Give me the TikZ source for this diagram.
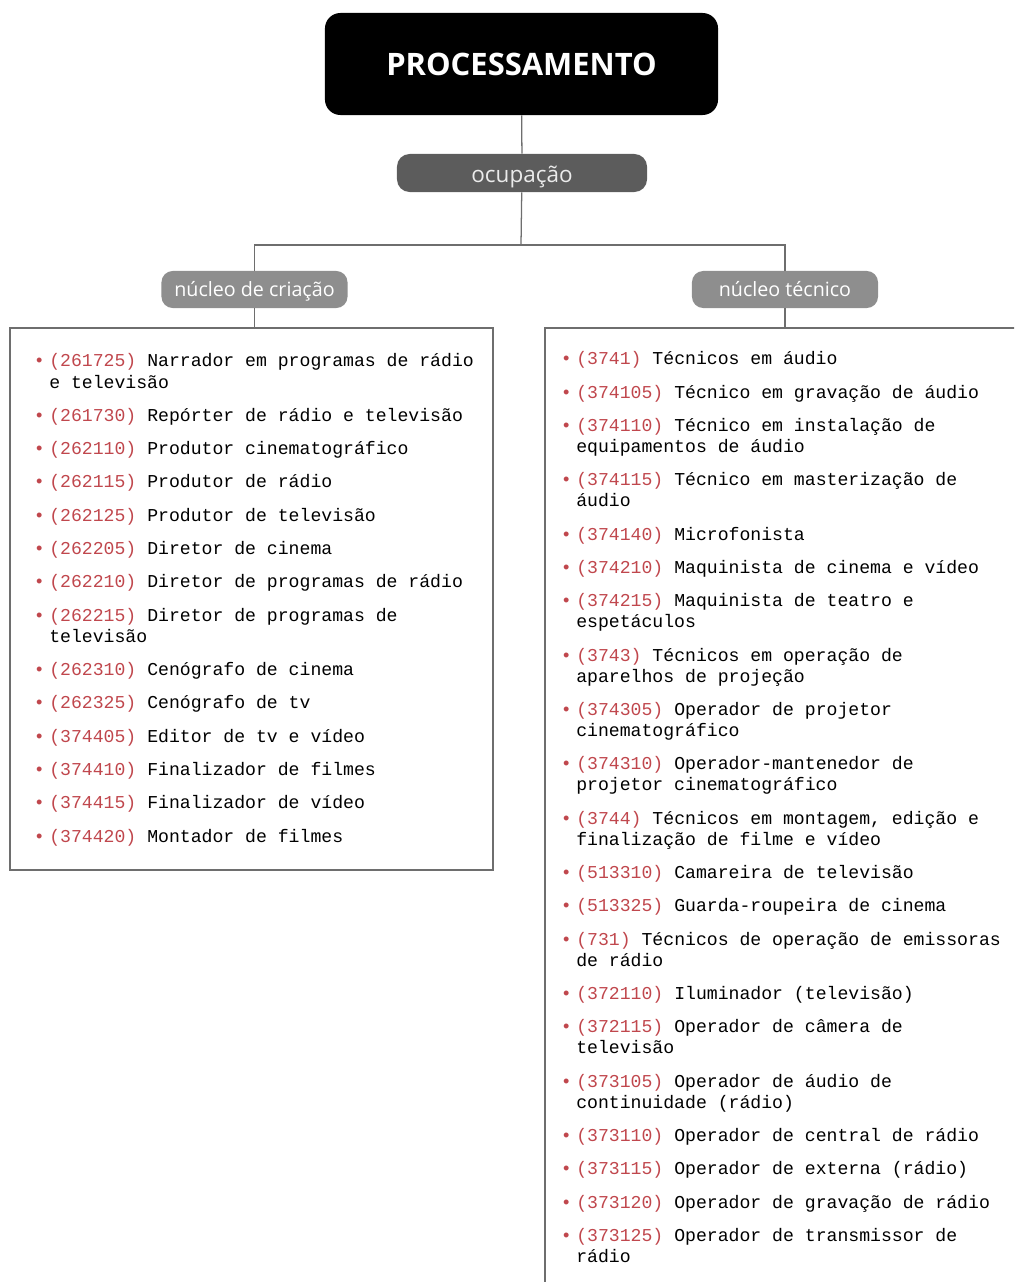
\documentclass[tikz,border=0pt]{standalone}
\usepackage{fontspec}
\setmonofont{Liberation Mono}
\newfontfamily\headfont{Open Sans}
\usetikzlibrary{positioning}

\definecolor{codered}{HTML}{C0474D}
\definecolor{linegray}{HTML}{6E6E6E}
\definecolor{occgray}{HTML}{5C5C5C}
\definecolor{nucgray}{HTML}{8E8E8E}

% one line of a list: red bullet and code, then the name
\newcommand{\jobline}[2]{\strut\llap{\textcolor{codered}{•}\kern3.3pt}\textcolor{codered}{(#1)} #2\strut}

\tikzset{
  titlebox/.style={fill=black, rounded corners=11pt, minimum width=9.825cm, minimum height=2.55cm,
    text=white, text height=16pt, text depth=0pt, font=\headfont\bfseries\fontsize{22}{26}\selectfont},
  occbox/.style={fill=occgray, rounded corners=9pt, minimum width=6.25cm, minimum height=0.95cm,
    inner sep=0, text height=14.5pt, text depth=1.7pt, text=white!92!black,
    font=\headfont\fontsize{16}{19}\selectfont},
  nucbox/.style={fill=nucgray, rounded corners=8pt, minimum width=4.65cm, minimum height=0.925cm,
    inner sep=0, text height=12pt, text depth=2pt, text=white,
    font=\headfont\fontsize{14}{17}\selectfont},
  conn/.style={draw=linegray, line width=0.9pt},
  listbox/.style={draw=linegray, line width=0.9pt},
  jobitem/.style={anchor=north west, inner sep=0, align=left,
    font=\ttfamily\fontsize{12.9}{14.94}\selectfont},
}

\begin{document}
\begin{tikzpicture}[x=0.025cm, y=-0.025cm]
  \useasboundingbox (0,0) rectangle (1014,1282);
  \clip (0,0) rectangle (1014,1282);

  \node[titlebox] (proc) at (521.5,64) {PROCESSAMENTO};
  \node[occbox] (occ) at (522,173) {ocupação};
  \node[nucbox] (criacao) at (254.5,289.5) {núcleo de criação};
  \node[nucbox] (tecnico) at (785,289.5) {núcleo técnico};
  \coordinate (fork) at (521,245);

  \draw[conn] (proc) -- (occ);
  \draw[conn] (occ) -- (fork);
  \draw[conn] (criacao.north) |- (fork) -| (tecnico.north);

  % list boxes
  \node[listbox, minimum width=12.075cm, minimum height=13.55cm, inner sep=0] (criacaolist) at (251.5,599) {};
  \coordinate (tecnicotop) at (545,328);
  \draw[listbox] (1030,328) -- (tecnicotop) -- (545,1300);
  \draw[conn] (criacao.south) -- (criacao.south |- criacaolist.north);
  \draw[conn] (tecnico.south) -- (tecnico.south |- tecnicotop);

  % núcleo de criação
  \foreach \cod/\txt [count=\i, remember=\i as \j (initially 0)] in {
    261725/{Narrador em programas de rádio\\e televisão},
    261730/{Repórter de rádio e televisão},
    262110/{Produtor cinematográfico},
    262115/{Produtor de rádio},
    262125/{Produtor de televisão},
    262205/{Diretor de cinema},
    262210/{Diretor de programas de rádio},
    262215/{Diretor de programas de\\televisão},
    262310/{Cenógrafo de cinema},
    262325/{Cenógrafo de tv},
    374405/{Editor de tv e vídeo},
    374410/{Finalizador de filmes},
    374415/{Finalizador de vídeo},
    374420/{Montador de filmes}}{
    \ifnum\i=1
      \node[jobitem] (c\i) at (49,352) {\jobline{\cod}{\txt}};
    \else
      \node[jobitem, below=8.35pt of c\j.south west, anchor=north west] (c\i) {\jobline{\cod}{\txt}};
    \fi
  }

  % núcleo técnico
  \foreach \cod/\txt [count=\i, remember=\i as \j (initially 0)] in {
    3741/{Técnicos em áudio},
    374105/{Técnico em gravação de áudio},
    374110/{Técnico em instalação de\\equipamentos de áudio},
    374115/{Técnico em masterização de\\áudio},
    374140/{Microfonista},
    374210/{Maquinista de cinema e vídeo},
    374215/{Maquinista de teatro e\\espetáculos},
    3743/{Técnicos em operação de\\aparelhos de projeção},
    374305/{Operador de projetor\\cinematográfico},
    374310/{Operador-mantenedor de\\projetor cinematográfico},
    3744/{Técnicos em montagem, edição e\\finalização de filme e vídeo},
    513310/{Camareira de televisão},
    513325/{Guarda-roupeira de cinema},
    731/{Técnicos de operação de emissoras\\de rádio},
    372110/{Iluminador (televisão)},
    372115/{Operador de câmera de\\televisão},
    373105/{Operador de áudio de\\continuidade (rádio)},
    373110/{Operador de central de rádio},
    373115/{Operador de externa (rádio)},
    373120/{Operador de gravação de rádio},
    373125/{Operador de transmissor de\\rádio}}{
    \ifnum\i=1
      \node[jobitem] (t\i) at (576,350) {\jobline{\cod}{\txt}};
    \else
      \node[jobitem, below=8.35pt of t\j.south west, anchor=north west] (t\i) {\jobline{\cod}{\txt}};
    \fi
  }
\end{tikzpicture}
\end{document}
